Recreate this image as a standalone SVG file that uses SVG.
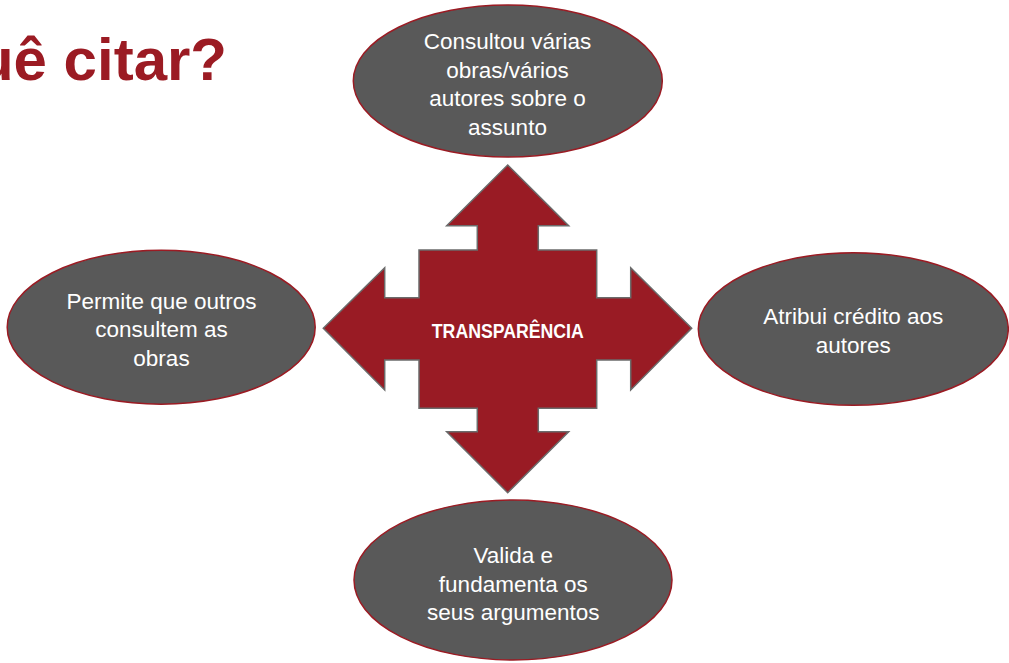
<svg xmlns="http://www.w3.org/2000/svg" width="1009" height="663" viewBox="0 0 1009 663">
  <style>
    .bubble { fill: #595959; stroke: #9b1b23; stroke-width: 1.5; }
    .btxt { fill: #ffffff; font-family: "Liberation Sans", Arial, sans-serif; font-size: 22.5px; text-anchor: middle; }
    .title { fill: #9b1b23; font-family: "Liberation Sans", Arial, sans-serif; font-size: 60px; font-weight: bold; text-anchor: end; }
    .arrow { fill: #991b24; stroke: #6b6b6b; stroke-width: 1.5; stroke-linejoin: miter; }
    .ctxt { fill: #ffffff; font-family: "Liberation Sans", Arial, sans-serif; font-size: 21px; font-weight: bold; text-anchor: middle; }
  </style>
  <rect width="1009" height="663" fill="#ffffff"/>
  <g id="title">
    <text class="title" x="227" y="80">uê citar?</text>
  </g>
  <g id="center">
    <polygon class="arrow" points="507.7,165 568.7,225.7 538.3,225.7 538.3,250 596.7,250 596.7,297.7 630.7,297.7 630.7,267.7 691.7,328.3 630.7,390 630.7,360 596.7,360 596.7,408.3 538.3,408.3 538.3,431.7 568.7,431.7 507.7,492.7 446.7,431.7 477.3,431.7 477.3,408.3 419,408.3 419,360 384.7,360 384.7,390 323.3,328.3 384.7,267.7 384.7,297.7 419,297.7 419,250 477.3,250 477.3,225.7 446.7,225.7"/>
    <text class="ctxt" x="507.8" y="337.7" textLength="152" lengthAdjust="spacingAndGlyphs">TRANSPARÊNCIA</text>
  </g>
  <g id="node-top">
    <ellipse class="bubble" cx="507.8" cy="81" rx="154.5" ry="76"/>
    <text class="btxt" x="507.5" y="49.3">Consultou várias</text>
    <text class="btxt" x="507.5" y="77.5">obras/vários</text>
    <text class="btxt" x="507.5" y="106">autores sobre o</text>
    <text class="btxt" x="507.5" y="134.5">assunto</text>
  </g>
  <g id="node-right">
    <ellipse class="bubble" cx="853.3" cy="329" rx="155" ry="76.3"/>
    <text class="btxt" x="853.3" y="324">Atribui crédito aos</text>
    <text class="btxt" x="853.3" y="352.5">autores</text>
  </g>
  <g id="node-left">
    <ellipse class="bubble" cx="161.2" cy="327.2" rx="154" ry="77"/>
    <text class="btxt" x="161.5" y="309">Permite que outros</text>
    <text class="btxt" x="161.5" y="337.3">consultem as</text>
    <text class="btxt" x="161.5" y="365.7">obras</text>
  </g>
  <g id="node-bottom">
    <ellipse class="bubble" cx="513" cy="580" rx="159" ry="80"/>
    <text class="btxt" x="513.3" y="563.3">Valida e</text>
    <text class="btxt" x="513.3" y="591.7">fundamenta os</text>
    <text class="btxt" x="513.3" y="620">seus argumentos</text>
  </g>
  <g id="connectors"/>
</svg>
